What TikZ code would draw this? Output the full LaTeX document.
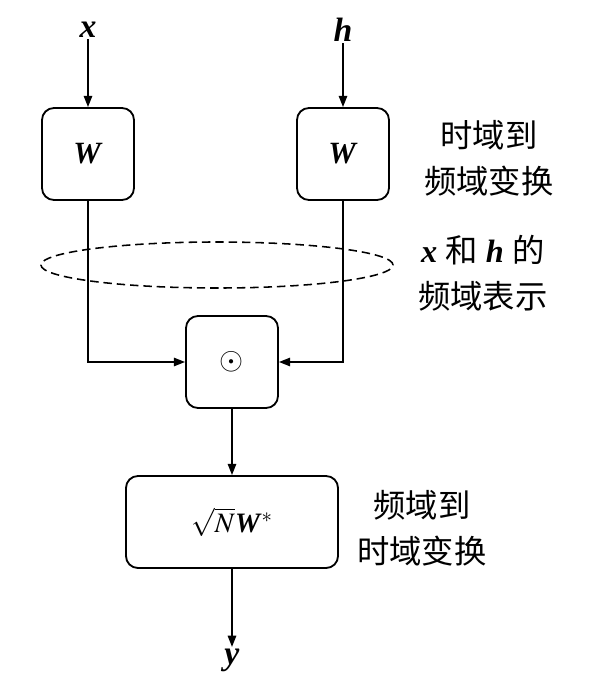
\documentclass[tikz,border=0pt]{standalone}
\usepackage{mathptmx}
\usepackage[no-math]{fontspec}
\setmainfont{Liberation Serif}
\newfontfamily\cjk{Noto Sans CJK SC}
\usetikzlibrary{arrows.meta,positioning,shapes.geometric}

\newcommand{\bv}[1]{\textbf{\textit{#1}}}

\begin{document}
\begin{tikzpicture}[x=0.025cm, y=-0.025cm,
  blk/.style={draw, rounded corners=0.3cm, line width=1.3pt, minimum width=2.3cm,
              minimum height=2.3cm, font=\fontsize{22}{25}\selectfont},
  lbl/.style={font=\fontsize{23}{33}\selectfont, align=center, inner sep=0pt},
  sig/.style={font=\fontsize{24}{25}\selectfont, inner sep=1pt},
  arr/.style={-{Triangle[length=2.8mm,width=2.1mm]}, line width=1.1pt}
]
  \useasboundingbox (0,0) rectangle (593,690);

  % inputs and time-to-frequency transforms
  \node[sig] (xin) at (88,30) {\bv{x}};
  \node[sig] (hin) at (343,30) {\bv{h}};
  \node[blk] (Wx) at (88,154) {\bv{W}};
  \node[blk] (Wh) at (343,154) {\bv{W}};

  % frequency representation
  \node[ellipse, draw, dash pattern=on 6pt off 3.5pt, line width=1.1pt,
        minimum width=8.8cm, minimum height=1.15cm] (rep) at (217,265) {};

  % product and back transform
  \node[blk] (mul) at (232,362) {$\odot$};
  \node[blk, minimum width=5.3cm, font=\fontsize{20}{24}\selectfont] (inv) at (232,522)
    {$\sqrt{N}$\bv{W}$^{*}$};
  \node[sig] (yout) at (232,660) {\bv{y}};

  \node[lbl, right=0.85cm of Wh, yshift=-0.1cm] {{\cjk 时域到}\\{\cjk 频域变换}};
  \node[lbl, right=0.6cm of rep, yshift=-0.2cm] {\bv{x} {\cjk 和} \bv{h} {\cjk 的}\\{\cjk 频域表示}};
  \node[lbl, right=0.45cm of inv, yshift=-0.15cm] {{\cjk 频域到}\\{\cjk 时域变换}};

  \draw[arr] (xin) -- (Wx);
  \draw[arr] (hin) -- (Wh);
  \draw[arr] (Wx) |- (mul);
  \draw[arr] (Wh) |- (mul);
  \draw[arr] (mul) -- (inv);
  \draw[arr] (inv) -- (yout);
\end{tikzpicture}
\end{document}
